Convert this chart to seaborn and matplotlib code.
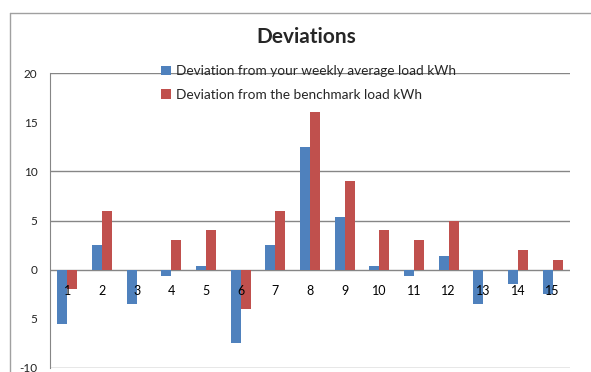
import pandas as pd
import seaborn as sns
import matplotlib.pyplot as plt
from matplotlib.lines import Line2D

# Values
days = [str(i) for i in range(1, 16)]
weekly_dev = [-5.5, 2.5, -3.5, -0.6, 0.4, -7.5, 2.5, 12.5, 5.4, 0.4, -0.6, 1.4, -3.5, -1.5, -2.5]
bench_dev = [-2, 6, 0, 3, 4, -4, 6, 16, 9, 4, 3, 5, 0, 2, 1]
series_names = ["Deviation from your weekly average load kWh",
                "Deviation from the benchmark load kWh"]
y_ticks = [-10, -5, 0, 5, 10, 15, 20]
y_tick_labels = ["-10", "5", "0", "5", "10", "15", "20"]
grid_levels = [20, 10, 5, 0, -10]

df = pd.DataFrame({
    "day": days * 2,
    "value": weekly_dev + bench_dev,
    "series": [series_names[0]] * len(days) + [series_names[1]] * len(days),
})

sns.set_style("white")
plt.rcParams["font.family"] = ["Lato", "DejaVu Sans"]

fig = plt.figure(figsize=(5.91, 3.72), dpi=100)
ax = fig.add_axes([50 / 591, 1 - 368 / 372, 520 / 591, 295 / 372])

for g in grid_levels:
    ax.axhline(g, color="#868686", lw=1, zorder=0.5)

sns.barplot(data=df, x="day", y="value", hue="series",
            palette=["#4F81BD", "#C0504D"], width=0.58,
            saturation=1, linewidth=0, ax=ax, zorder=2)

ax.set_ylim(-10, 20)
ax.set_yticks(y_ticks)
ax.set_yticklabels(y_tick_labels)
ax.set_xlabel("")
ax.set_ylabel("")

for side in ["top", "right", "bottom"]:
    ax.spines[side].set_visible(False)
ax.spines["left"].set_color("#868686")
ax.spines["left"].set_bounds(-10, 20)

# category labels sit just under the zero line, drawn over the bars
ax.spines["bottom"].set_position(("data", 0))
ax.xaxis.set_zorder(3)
ax.tick_params(axis="x", length=0, pad=11, labelsize=9, labelcolor="black")
ax.tick_params(axis="y", length=0, pad=9, labelsize=8.5, labelcolor="#222222")

leg_handles, leg_labels = ax.get_legend_handles_labels()
ax.legend_.remove()
fig.legend(leg_handles, leg_labels, loc="upper left",
           bbox_to_anchor=(156 / 591, 1 - 60 / 372), frameon=False,
           fontsize=9.8, handlelength=0.7, handleheight=0.7,
           handletextpad=0.35, labelspacing=0.85, borderaxespad=0)

fig.text(306 / 591, 1 - 37 / 372, "Deviations", ha="center", va="center",
         fontsize=15, fontweight="bold")

# outer chart border
fig.add_artist(Line2D([10 / 591, 10 / 591], [0, 1 - 13 / 372],
                      transform=fig.transFigure, color="#a0a0a0", lw=1))
fig.add_artist(Line2D([10 / 591, 1], [1 - 13 / 372, 1 - 13 / 372],
                      transform=fig.transFigure, color="#a0a0a0", lw=1))

fig.savefig("out.png", dpi=100)
